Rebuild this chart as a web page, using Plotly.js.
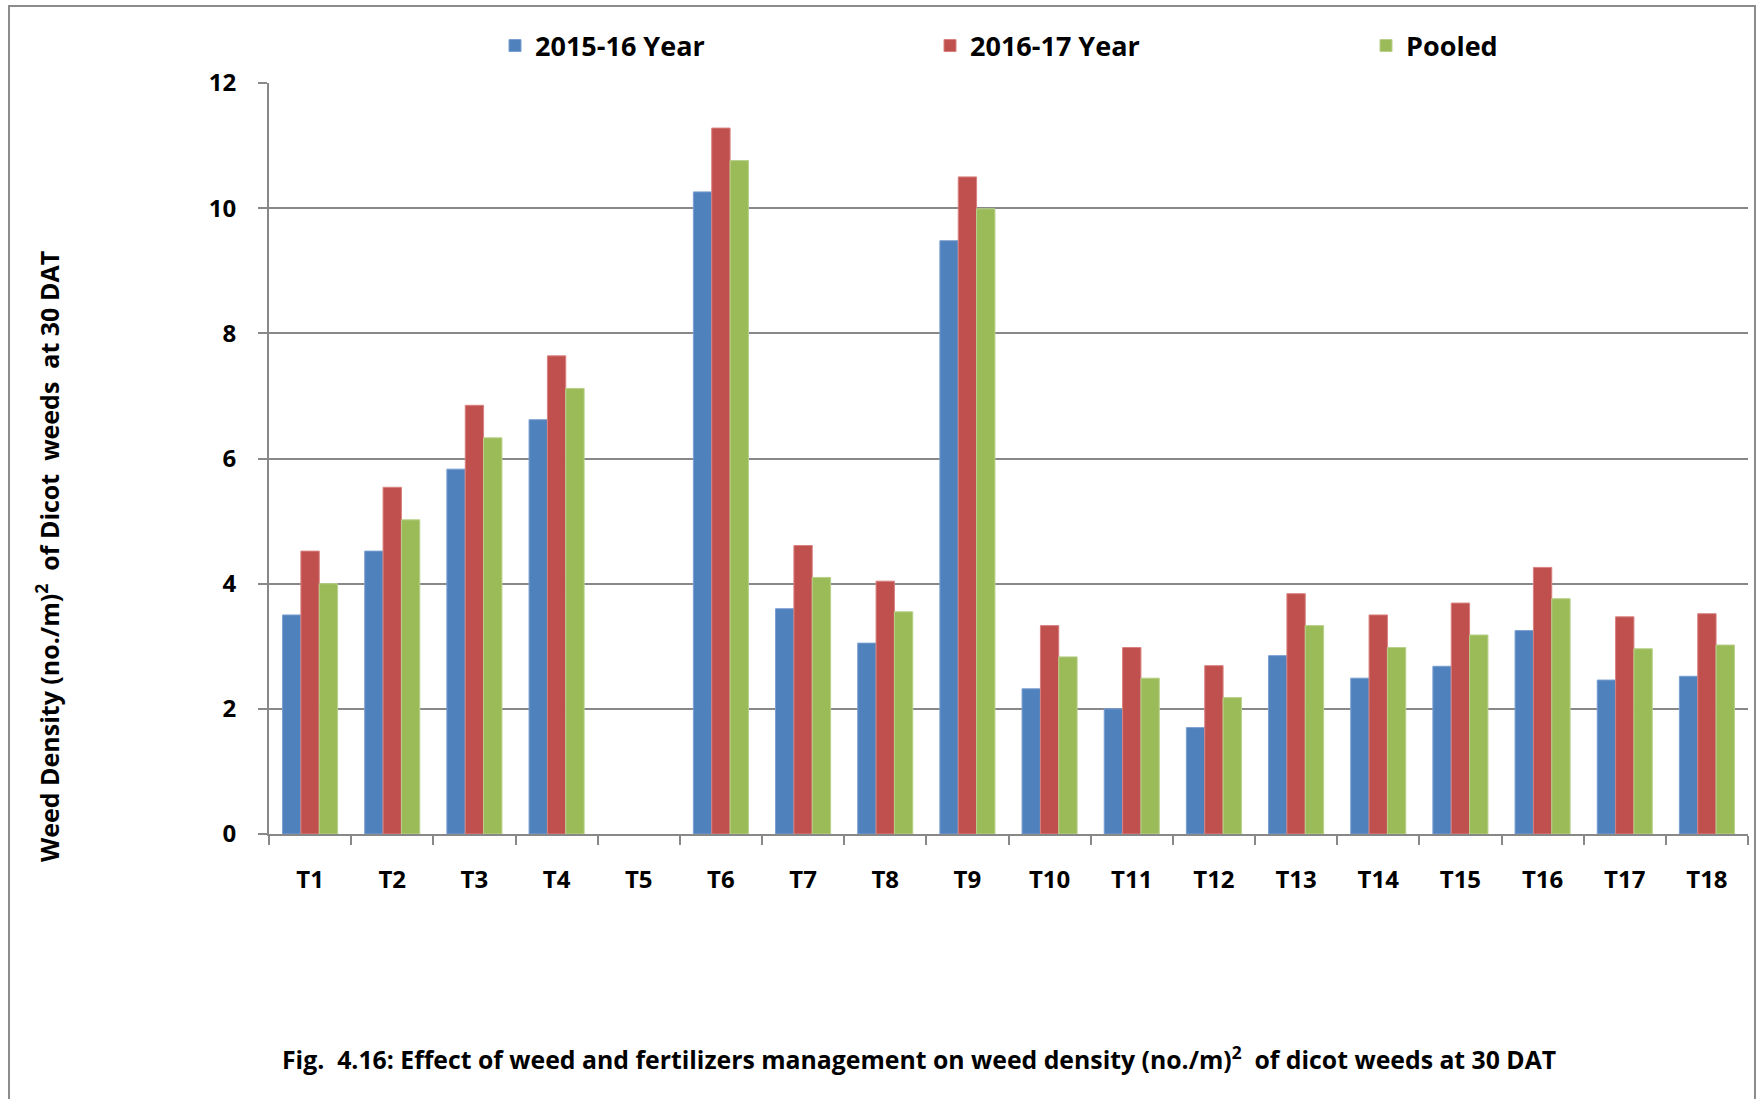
<!DOCTYPE html>
<html>
<head>
<meta charset="utf-8">
<script src="https://cdn.plot.ly/plotly-3.0.1.min.js"></script>
<style>html,body{margin:0;padding:0;background:#fff;}#chart{width:1757px;height:1099px;}</style>
</head>
<body>
<div id="chart"></div>
<script>
const categories = ["T1","T2","T3","T4","T5","T6","T7","T8","T9","T10","T11","T12","T13","T14","T15","T16","T17","T18"];
const year201516 = [3.50,4.52,5.83,6.62,0,10.26,3.60,3.05,9.48,2.32,2.00,1.70,2.85,2.49,2.68,3.25,2.46,2.52];
const year201617 = [4.52,5.54,6.85,7.64,0,11.28,4.61,4.04,10.50,3.33,2.98,2.69,3.84,3.50,3.69,4.26,3.47,3.52];
const pooled     = [4.00,5.02,6.33,7.12,0,10.76,4.10,3.55,9.99,2.83,2.49,2.18,3.33,2.98,3.18,3.76,2.96,3.02];
const seriesNames = ["2015-16 Year","2016-17 Year","Pooled"];
const yTicks = [0,2,4,6,8,10,12];
const yTitle = "Weed Density (no./m)<sup>2</sup>  of Dicot  weeds  at 30 DAT";
const caption = "Fig.  4.16: Effect of weed and fertilizers management on weed density (no./m)<sup>2</sup>  of dicot weeds at 30 DAT";

const FONT = "'Open Sans', Carlito, Calibri, sans-serif";
const colors = ["#4F81BD","#C0504D","#9BBB59"];
const lines = ["#7a9fd0","#d9817f","#b8d08a"];
const vals = [year201516, year201617, pooled];
const legendIds = ["legend","legend2","legend3"];

const traces = vals.map((v,i)=>({
  type:"bar", name:seriesNames[i], x:categories, y:v, legend:legendIds[i],
  marker:{color:colors[i], line:{color:lines[i], width:v.map(d=>d>0?1:0)}},
  hoverinfo:"x+y+name"
}));

const W=1757, H=1099, L=269, R=9, T=83, B=265;
const pw=W-L-R, ph=H-T-B;
const px2x = p => (p-L)/pw;
const py2y = p => (H-B-p)/ph;

const legendStarts = [495, 930, 1366];
const legendBase = {orientation:"h", xanchor:"left", y:py2y(46), yanchor:"middle",
  font:{family:FONT, size:27, color:"#000", weight:"bold"},
  bgcolor:"rgba(0,0,0,0)", borderwidth:0, itemclick:false};

const layout = {
  width:W, height:H,
  margin:{l:L, r:R, t:T, b:B, pad:0},
  paper_bgcolor:"#ffffff", plot_bgcolor:"#ffffff",
  font:{family:FONT, color:"#000", size:22},
  barmode:"group", bargap:0.33, bargroupgap:0,
  showlegend:true,
  legend:Object.assign({}, legendBase, {x:px2x(legendStarts[0])}),
  legend2:Object.assign({}, legendBase, {x:px2x(legendStarts[1])}),
  legend3:Object.assign({}, legendBase, {x:px2x(legendStarts[2])}),
  xaxis:{type:"category", tickson:"boundaries", ticks:"outside", ticklen:9, tickwidth:2, tickcolor:"#888",
    showline:true, linecolor:"#888", linewidth:2, showgrid:false,
    tickfont:{family:FONT, size:24, color:"#000", weight:"bold"}, ticklabelstandoff:23},
  yaxis:{range:[0,12], tickvals:yTicks, ticks:"outside", ticklen:9, tickwidth:2, tickcolor:"#888",
    showline:true, linecolor:"#888", linewidth:2, showgrid:true, gridcolor:"#888", gridwidth:2,
    zeroline:false, tickfont:{family:FONT, size:24, color:"#000", weight:"bold"}, ticklabelstandoff:17},
  annotations:[
    {xref:"paper", yref:"paper", x:px2x(47), y:py2y(557), text:yTitle, textangle:-90, showarrow:false,
     xanchor:"center", yanchor:"middle", font:{family:FONT, size:25, color:"#000", weight:"bold"}},
    {xref:"paper", yref:"paper", x:px2x(919), y:py2y(1058), text:caption, showarrow:false,
     xanchor:"center", yanchor:"middle", font:{family:FONT, size:24.8, color:"#000", weight:"bold"}}
  ],
  shapes:[
    {type:"rect", xref:"paper", yref:"paper", x0:px2x(9), x1:px2x(1755), y0:py2y(1110), y1:py2y(6),
     line:{color:"#8c8c8c", width:2}, fillcolor:"rgba(0,0,0,0)", layer:"below"}
  ]
};

Plotly.newPlot("chart", traces, layout, {displayModeBar:false, staticPlot:true});
</script>
</body>
</html>
